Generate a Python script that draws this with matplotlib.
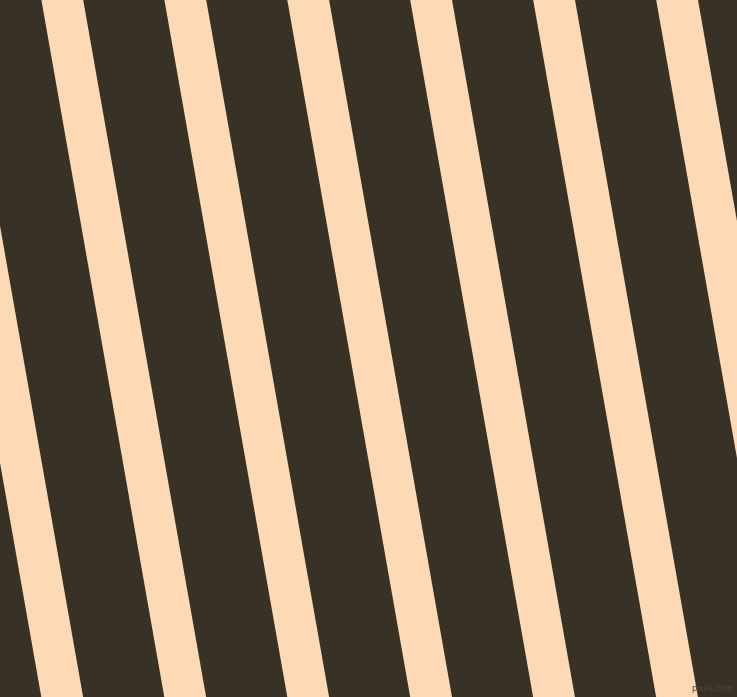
import numpy as np
import matplotlib.pyplot as plt

# image size in pixels
W, H = 737, 697

# x where each light stripe's left edge meets the top edge (px)
stripe_left_top = [-81.6, 41.4, 164.4, 287.3, 410.2, 533.2, 656.2]
stripe_width = 41.8          # horizontal width of a stripe (px)
tilt_deg = 10.0              # lean of the stripes from vertical

dark = '#383226'
light = '#FDDAB5'

fig = plt.figure(figsize=(W / 100, H / 100), dpi=100)
ax = fig.add_axes([0, 0, 1, 1])
ax.set_xlim(0, W)
ax.set_ylim(H, 0)
ax.axis('off')
ax.add_patch(plt.Rectangle((0, 0), W, H, color=dark, zorder=0))

shift = H * np.tan(np.radians(tilt_deg))
for x0 in stripe_left_top:
    xs = [x0, x0 + stripe_width, x0 + stripe_width + shift, x0 + shift]
    ys = [0, 0, H, H]
    ax.fill(xs, ys, color=light, lw=0, zorder=1)

ax.text(734, 693, 'pixlis.com', color='#4e483c', fontsize=6,
        ha='right', va='bottom', zorder=2)

fig.savefig('out.png', dpi=100)
